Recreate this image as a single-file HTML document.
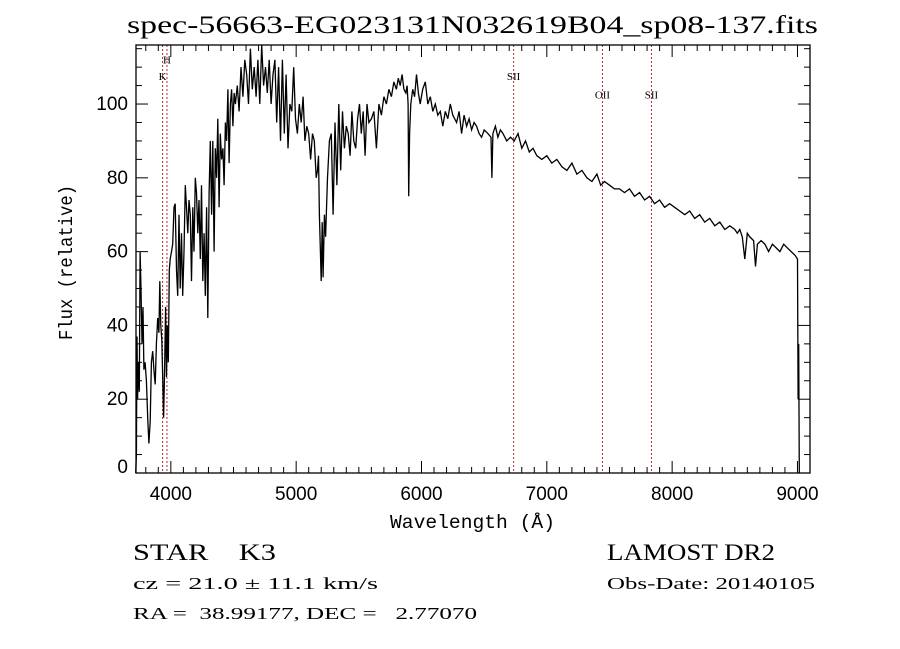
<!DOCTYPE html>
<html><head><meta charset="utf-8"><style>
html,body{margin:0;padding:0;background:#fff;}
svg{display:block;}
</style></head><body>
<svg id="chart" width="900" height="649" viewBox="0 0 900 649" xmlns="http://www.w3.org/2000/svg" font-family="Liberation Serif, serif">
<rect width="900" height="649" fill="#fff"/>
<text x="127" y="33" font-size="25" textLength="691" lengthAdjust="spacingAndGlyphs">spec-56663-EG023131N032619B04_sp08-137.fits</text>
<g id="plot"></g>
<text x="390" y="528" font-size="19" font-family="Liberation Mono, monospace" textLength="165" lengthAdjust="spacingAndGlyphs">Wavelength (Å)</text>
<text x="0" y="0" font-size="19" font-family="Liberation Mono, monospace" textLength="155" lengthAdjust="spacingAndGlyphs" transform="translate(72,340) rotate(-90)">Flux (relative)</text>
<text x="133" y="560" font-size="23" xml:space="preserve" textLength="143" lengthAdjust="spacingAndGlyphs">STAR    K3</text>
<text x="133" y="589" font-size="17" textLength="245" lengthAdjust="spacingAndGlyphs">cz = 21.0 ± 11.1 km/s</text>
<text x="133" y="619" font-size="17" xml:space="preserve" textLength="344" lengthAdjust="spacingAndGlyphs">RA =  38.99177, DEC =   2.77070</text>
<text x="607" y="560" font-size="23" textLength="168" lengthAdjust="spacingAndGlyphs">LAMOST DR2</text>
<text x="607" y="589" font-size="17" textLength="208" lengthAdjust="spacingAndGlyphs">Obs-Date: 20140105</text>
</svg>
<script>
const spectrum=[[3720,0],[3725,5],[3730,37],[3735,20],[3740,30],[3748,22],[3755,60],[3762,50],[3770,35],[3778,45],[3785,28],[3795,30],[3805,25],[3815,15],[3825,8],[3835,14],[3845,30],[3855,33],[3865,28],[3875,24],[3885,35],[3895,42],[3905,38],[3912,52],[3920,40],[3928,36],[3935,26],[3942,15],[3950,28],[3958,45],[3965,26],[3972,40],[3980,30],[3988,55],[3995,58],[4005,60],[4015,62],[4025,72],[4035,73],[4045,55],[4055,48],[4065,70],[4075,50],[4085,65],[4095,48],[4105,60],[4115,78],[4125,72],[4135,65],[4145,74],[4155,70],[4165,52],[4175,72],[4185,60],[4195,80],[4205,76],[4215,65],[4225,74],[4235,58],[4245,78],[4255,52],[4265,65],[4275,48],[4285,72],[4295,42],[4305,76],[4315,90],[4325,70],[4335,90],[4345,60],[4355,88],[4365,80],[4375,96],[4385,72],[4395,92],[4405,85],[4415,88],[4425,78],[4435,95],[4445,90],[4455,104],[4465,84],[4475,100],[4485,104],[4495,94],[4505,103],[4515,100],[4530,105],[4545,98],[4560,110],[4575,102],[4590,112],[4605,108],[4620,100],[4635,115],[4650,104],[4665,110],[4680,102],[4695,112],[4710,100],[4725,116],[4740,105],[4755,110],[4770,103],[4785,112],[4800,100],[4815,108],[4830,112],[4845,95],[4860,110],[4875,90],[4890,112],[4905,92],[4920,108],[4935,88],[4950,100],[4965,98],[4980,110],[4995,96],[5010,92],[5025,100],[5040,95],[5055,102],[5070,90],[5085,94],[5100,92],[5115,85],[5130,92],[5145,90],[5160,80],[5170,82],[5178,86],[5185,70],[5192,62],[5200,52],[5208,68],[5215,53],[5225,70],[5235,64],[5250,80],[5265,90],[5280,92],[5295,70],[5310,95],[5325,78],[5340,100],[5355,82],[5370,98],[5385,88],[5400,94],[5415,92],[5430,86],[5445,98],[5460,90],[5475,88],[5490,96],[5505,100],[5520,92],[5535,98],[5550,86],[5565,100],[5580,95],[5600,96],[5620,98],[5640,88],[5660,100],[5680,97],[5700,102],[5720,100],[5740,104],[5760,102],[5780,106],[5800,104],[5815,107],[5830,105],[5845,108],[5860,104],[5875,103],[5885,105],[5893,100],[5898,75],[5905,92],[5915,100],[5930,104],[5945,102],[5960,108],[5975,103],[5990,100],[6010,104],[6030,106],[6050,100],[6070,102],[6090,98],[6110,100],[6130,97],[6150,98],[6170,94],[6190,98],[6210,96],[6230,100],[6250,97],[6280,95],[6300,98],[6320,92],[6340,97],[6360,94],[6380,96],[6400,93],[6420,95],[6440,94],[6460,92],[6480,91],[6500,93],[6530,92],[6555,91],[6562,80],[6570,92],[6590,94],[6610,91],[6630,93],[6650,92],[6680,90],[6710,91],[6740,90],[6770,92],[6800,88],[6830,90],[6860,87],[6890,88],[6920,86],[6960,85],[7000,86],[7040,84],[7080,85],[7120,83],[7160,82],[7200,84],[7240,81],[7280,82],[7320,80],[7360,79],[7400,81],[7430,78],[7460,79],[7500,78],[7540,77],[7580,77],[7620,76],[7660,77],[7700,75],[7740,76],[7780,74],[7820,75],[7860,73],[7900,74],[7940,72],[7980,73],[8020,72],[8060,71],[8100,70],[8140,71],[8180,69],[8220,70],[8260,68],[8300,69],[8340,67],[8380,68],[8420,66],[8460,67],[8500,66],[8520,65],[8540,66],[8560,64],[8580,58],[8600,65],[8620,64],[8650,63],[8665,56],[8680,62],[8710,63],[8740,62],[8770,60],[8800,62],[8830,61],[8860,60],[8890,62],[8920,61],[8950,60],[8980,59],[9000,58],[9005,20],[9010,35],[9015,0]];
const xTicks=[4000,5000,6000,7000,8000,9000];
const yTicks=[0,20,40,60,80,100];
const lineNames=["H","K","SII","OII","SII"];
const lineWaves=[3969,3934,6735,7444,7835];
const lineLabelFlux=[111,106.5,106.5,101.5,101.5];
const xMin=3722,xMax=9100,yMin=0,yMax=116;
const L=136,R=810,T=45,B=473;
const NS="http://www.w3.org/2000/svg";
const sx=w=>L+(w-xMin)/(xMax-xMin)*(R-L);
const sy=f=>B-(f-yMin)/(yMax-yMin)*(B-T);
const g=document.getElementById('plot');
function mk(tag,attrs){const e=document.createElementNS(NS,tag);for(const k in attrs)e.setAttribute(k,attrs[k]);g.appendChild(e);return e;}
lineWaves.forEach((w,i)=>{
  const ln=mk('line',{x1:sx(w),x2:sx(w),y1:T,y2:B,stroke:'#b03030','stroke-width':1,'stroke-dasharray':'2,2'});
  
  
  const t=mk('text',{x:sx(w),y:sy(lineLabelFlux[i]),'font-size':11,'text-anchor':'middle'});
  t.textContent=lineNames[i];
  
  
});
const p=mk('path',{d:spectrum.map((d,i)=>(i?'L':'M')+sx(d[0]).toFixed(1)+','+sy(d[1]).toFixed(1)).join(''),fill:'none',stroke:'#000','stroke-width':1.3});


const fr=mk('rect',{x:L,y:T,width:R-L,height:B-T,fill:'none',stroke:'#000','stroke-width':1.3});


for(let w=3800;w<=9100;w+=100){
  const major=w%1000===0;const len=major?12:6;
  const a=mk('line',{x1:sx(w),x2:sx(w),y1:B,y2:B-len,stroke:'#000'});
  
  
  const b=mk('line',{x1:sx(w),x2:sx(w),y1:T,y2:T+len,stroke:'#000'});
  
  
}
xTicks.forEach(w=>{
  const t=mk('text',{x:sx(w),y:B+27,'font-size':19,'text-anchor':'middle','font-family':'Liberation Sans, sans-serif'});
  t.textContent=w;
  
  
});
for(let f=0;f<=115;f+=5){
  const major=f%20===0;const len=major?12:6;
  const a=mk('line',{x1:L,x2:L+len,y1:sy(f),y2:sy(f),stroke:'#000'});
  
  
  const b=mk('line',{x1:R,x2:R-len,y1:sy(f),y2:sy(f),stroke:'#000'});
  
  
}
yTicks.forEach(f=>{
  const t=mk('text',{x:L-8,y:sy(f)+(f===0?0:6),'font-size':19,'text-anchor':'end','font-family':'Liberation Sans, sans-serif'});
  t.textContent=f;
  
  
});
</script>
</body></html>
